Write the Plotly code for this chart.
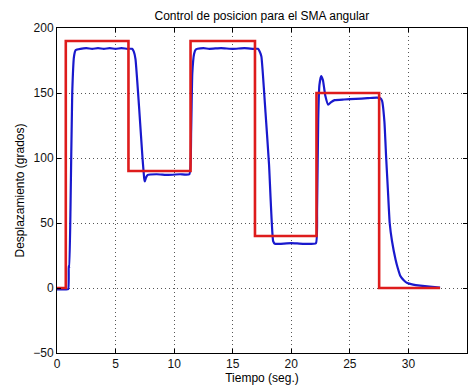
import plotly.graph_objects as go

# Reference (setpoint) signal: step changes of the commanded angle
ref_t = [0, 0.75, 0.75, 6.1, 6.1, 11.4, 11.4, 16.9, 16.9, 22.15, 22.15, 27.5, 27.5, 32.7]
ref_y = [0, 0, 190, 190, 90, 90, 190, 190, 40, 40, 150, 150, 0, 0]

# Measured angular displacement of the SMA actuator
resp_t = [0, 0.5, 0.95, 1.0, 1.05, 1.15, 1.3, 1.45, 1.6, 2.0, 2.5, 3.0, 3.5, 4.0, 4.5, 5.0,
          5.5, 6.0, 6.4, 6.55, 6.7, 7.0, 7.3, 7.45, 7.5, 7.6, 7.75, 8.5, 9.5, 10.5, 11.3,
          11.45, 11.55, 11.7, 11.85, 12.0, 12.5, 13.0, 14.0, 15.0, 16.0, 16.8, 17.15, 17.3,
          17.45, 17.8, 18.1, 18.45, 18.6, 19.0, 20.0, 21.0, 22.1, 22.2, 22.3, 22.4, 22.55,
          22.7, 22.9, 23.15, 23.4, 23.7, 24.5, 25.5, 26.5, 27.3, 27.6, 27.75, 27.95, 28.1,
          28.25, 28.4, 28.6, 28.9, 29.1, 29.3, 29.6, 29.9, 30.4, 31.0, 31.8, 32.7]
resp_y = [-1, -1, -1, 17, 15, 60, 150, 178, 183, 184, 184.5, 184, 184.5, 184, 184.5, 184,
          184.5, 184, 184, 182, 176, 140, 100, 84, 82, 85, 87, 87.5, 87, 87.5, 87.5,
          120, 165, 180, 183.5, 184, 184.5, 184, 184.5, 184, 184.5, 184, 184, 182,
          178, 135, 95, 36, 34, 34, 34.5, 34, 34.5, 60, 130, 156, 163,
          160, 148, 141, 143, 144.5, 145, 145.5, 146, 146.5, 146, 144, 128, 100,
          75, 50, 36, 22, 15, 9.5, 6, 3.8, 2.6, 1.8, 1.0, 0.3]

fig = go.Figure()
fig.add_trace(go.Scatter(x=resp_t, y=resp_y, mode="lines", line_shape="spline",
                         line=dict(color="rgb(25,25,205)", width=2.2, smoothing=0.4),
                         showlegend=False))
fig.add_trace(go.Scatter(x=ref_t, y=ref_y, mode="lines",
                         line=dict(color="rgb(222,28,28)", width=2.6), showlegend=False))

axis_common = dict(
    showline=True, linecolor="black", linewidth=1, mirror="allticks",
    ticks="inside", ticklen=4, tickcolor="black", tickwidth=1,
    showgrid=True, gridcolor="rgba(30,30,30,0.75)", gridwidth=1, griddash="1px,3px",
    zeroline=False, tickfont=dict(family="Liberation Sans, Arial", size=12, color="#111"),
)

fig.update_xaxes(range=[0, 35], tickvals=[0, 5, 10, 15, 20, 25, 30, 35],
                 title=dict(text="Tiempo (seg.)", standoff=2,
                            font=dict(family="Liberation Sans, Arial", size=12, color="black")),
                 **axis_common)
fig.update_yaxes(range=[-50, 200], tickvals=[-50, 0, 50, 100, 150, 200],
                 title=dict(text="Desplazamiento (grados)", standoff=6,
                            font=dict(family="Liberation Sans, Arial", size=12, color="black")),
                 **axis_common)

fig.update_layout(
    width=471, height=389,
    margin=dict(l=57, r=4, t=28, b=36),
    paper_bgcolor="white", plot_bgcolor="white",
    title=dict(text="Control de posicion para el SMA angular", x=0.556, xanchor="center",
               y=0.96, yanchor="middle",
               font=dict(family="Liberation Sans, Arial", size=12, color="black")),
)

fig.write_html("out.html")
